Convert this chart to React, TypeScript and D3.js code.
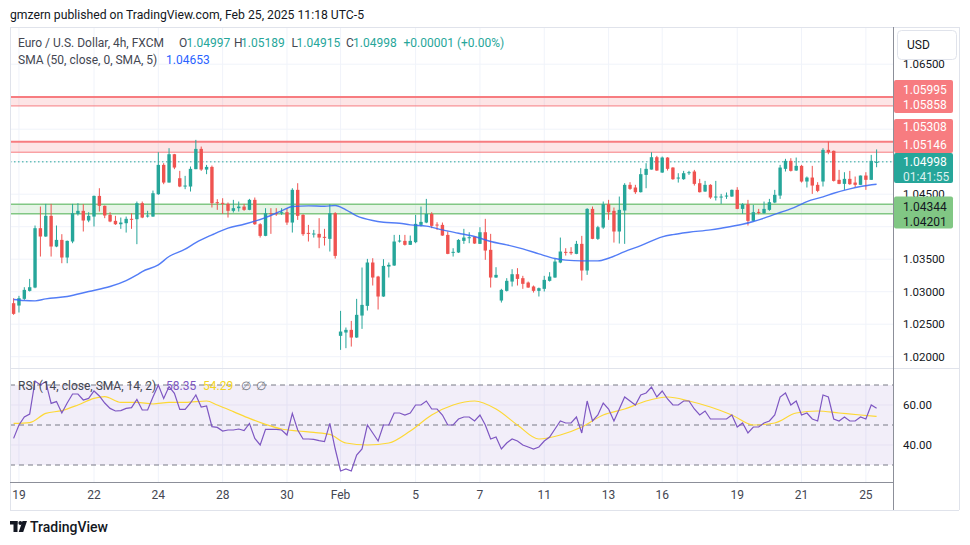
import * as d3 from 'd3';

// EUR/USD 4h candles, Jan 17 13:00 .. Feb 25 09:00 (UTC-5)
const opens = [
  1.02823, 1.02787, 1.0289, 1.03013, 1.03064, 1.03977, 1.03849, 1.04167, 1.03695, 1.03797,
  1.03526, 1.03772, 1.04197, 1.04244, 1.04095, 1.04156, 1.04474, 1.04321, 1.04182, 1.0409,
  1.04038, 1.04054, 1.04121, 1.04115, 1.04362, 1.04162, 1.04156, 1.045, 1.04951, 1.04679,
  1.05115, 1.04746, 1.04618, 1.04618, 1.04885, 1.05197, 1.04879, 1.0492, 1.04377, 1.04367,
  1.04351, 1.04244, 1.04285, 1.0431, 1.04259, 1.04413, 1.04038, 1.03859, 1.04208, 1.04208,
  1.04208, 1.04223, 1.04064, 1.04567, 1.04182, 1.03905, 1.03885, 1.0389, 1.03844, 1.03813,
  1.04208, 1.02321, 1.02372, 1.02413, 1.02295, 1.02633, 1.02782, 1.03449, 1.03233, 1.02926,
  1.03387, 1.03403, 1.03772, 1.03782, 1.03721, 1.03762, 1.04028, 1.04064, 1.04197, 1.04033,
  1.04028, 1.03874, 1.03603, 1.03603, 1.03782, 1.03828, 1.03844, 1.03736, 1.03915, 1.03644,
  1.03218, 1.02864, 1.03013, 1.03156, 1.03269, 1.03208, 1.03141, 1.0308, 1.03013, 1.03044,
  1.03167, 1.03218, 1.03449, 1.03613, 1.03613, 1.03582, 1.03736, 1.03326, 1.04274, 1.03813,
  1.03987, 1.04346, 1.04244, 1.03926, 1.04249, 1.04644, 1.04603, 1.04531, 1.04797, 1.04879,
  1.05069, 1.04833, 1.05064, 1.0491, 1.04746, 1.04731, 1.04828, 1.04849, 1.04669, 1.04541,
  1.04644, 1.04454, 1.04454, 1.04464, 1.04464, 1.04567, 1.04274, 1.04346, 1.0409, 1.04228,
  1.04208, 1.04259, 1.04372, 1.04479, 1.0489, 1.05013, 1.04864, 1.04936, 1.04695, 1.04756,
  1.04644, 1.04695, 1.05182, 1.05167, 1.04721, 1.04659, 1.04736, 1.04679, 1.04644, 1.04787,
  1.04721, 1.04997,
];
const highs = [
  1.029, 1.02936, 1.03069, 1.03197, 1.04018, 1.0431, 1.04351, 1.04351, 1.04018, 1.03885,
  1.03787, 1.04351, 1.04362, 1.04346, 1.04223, 1.04479, 1.04592, 1.04326, 1.04223, 1.04167,
  1.04141, 1.04156, 1.04208, 1.04387, 1.04387, 1.04244, 1.04556, 1.05146, 1.04977, 1.05208,
  1.0512, 1.04859, 1.04782, 1.04926, 1.05336, 1.05233, 1.04951, 1.04941, 1.04423, 1.04438,
  1.04372, 1.04413, 1.04387, 1.04351, 1.04428, 1.04449, 1.04054, 1.04285, 1.04285, 1.04285,
  1.04285, 1.04285, 1.04592, 1.04669, 1.04192, 1.04028, 1.03951, 1.04131, 1.03967, 1.04346,
  1.04223, 1.02705, 1.02449, 1.02551, 1.0289, 1.03372, 1.03505, 1.03515, 1.03244, 1.035,
  1.03449, 1.03874, 1.03874, 1.03874, 1.03864, 1.04182, 1.0431, 1.04428, 1.04223, 1.04069,
  1.04064, 1.03926, 1.03669, 1.03808, 1.03967, 1.03915, 1.03849, 1.03992, 1.04121, 1.0389,
  1.03377, 1.03044, 1.03208, 1.03346, 1.03362, 1.03244, 1.03156, 1.03095, 1.03064, 1.03244,
  1.033, 1.03505, 1.03833, 1.03669, 1.03685, 1.03782, 1.03859, 1.04285, 1.0431, 1.04013,
  1.04387, 1.04413, 1.04295, 1.04464, 1.04669, 1.04685, 1.04644, 1.049, 1.04977, 1.05146,
  1.0509, 1.05079, 1.05069, 1.04915, 1.04823, 1.04859, 1.04859, 1.04874, 1.04736, 1.04705,
  1.04654, 1.04705, 1.04505, 1.04526, 1.04572, 1.04608, 1.04362, 1.04413, 1.04336, 1.04274,
  1.04387, 1.04428, 1.04567, 1.04951, 1.05044, 1.05054, 1.05064, 1.04951, 1.04772, 1.04936,
  1.04685, 1.05208, 1.0531, 1.05172, 1.04874, 1.04838, 1.04859, 1.04772, 1.04787, 1.04838,
  1.05105, 1.05189,
];
const lows = [
  1.02644, 1.0268, 1.02874, 1.03003, 1.03054, 1.03541, 1.03844, 1.03541, 1.03685, 1.03438,
  1.03438, 1.03746, 1.04172, 1.03926, 1.04069, 1.04003, 1.04233, 1.04131, 1.04069, 1.04028,
  1.03967, 1.0391, 1.03967, 1.03731, 1.04131, 1.04141, 1.04151, 1.0449, 1.04654, 1.04679,
  1.04885, 1.04608, 1.04577, 1.04541, 1.04885, 1.04859, 1.04808, 1.04295, 1.04259, 1.04197,
  1.04141, 1.04218, 1.04233, 1.04244, 1.04254, 1.04028, 1.03833, 1.03854, 1.0389, 1.04167,
  1.04182, 1.04028, 1.0391, 1.04105, 1.03859, 1.03772, 1.03833, 1.03669, 1.0371, 1.03618,
  1.0351, 1.02105, 1.02131, 1.02156, 1.0229, 1.02428, 1.0271, 1.03095, 1.02726, 1.02921,
  1.03218, 1.03397, 1.03756, 1.0371, 1.03721, 1.03746, 1.04003, 1.04054, 1.03977, 1.03951,
  1.03859, 1.03577, 1.03541, 1.03597, 1.03736, 1.03746, 1.03736, 1.03736, 1.0349, 1.03064,
  1.03213, 1.02833, 1.03003, 1.0308, 1.03095, 1.03044, 1.03059, 1.02987, 1.02926, 1.03003,
  1.03156, 1.03213, 1.03438, 1.03556, 1.03567, 1.03577, 1.03172, 1.03259, 1.03808, 1.03797,
  1.03967, 1.04105, 1.03756, 1.03741, 1.03736, 1.04567, 1.04505, 1.04526, 1.04592, 1.04879,
  1.04859, 1.04828, 1.04864, 1.04721, 1.04679, 1.04721, 1.04797, 1.04633, 1.04526, 1.04536,
  1.04428, 1.04403, 1.04351, 1.04428, 1.04459, 1.04269, 1.04197, 1.04018, 1.0408, 1.04192,
  1.04197, 1.04244, 1.04362, 1.04428, 1.04849, 1.04849, 1.04859, 1.04679, 1.04603, 1.04505,
  1.04531, 1.04618, 1.05115, 1.04695, 1.04654, 1.04567, 1.04644, 1.04608, 1.04644, 1.04567,
  1.04721, 1.04915,
];
const closes = [
  1.02659, 1.029, 1.03028, 1.03069, 1.03977, 1.03849, 1.04167, 1.03695, 1.03797, 1.03526,
  1.03782, 1.04208, 1.04244, 1.04095, 1.04167, 1.04474, 1.04321, 1.04172, 1.0408, 1.04038,
  1.04064, 1.04121, 1.0411, 1.04362, 1.04141, 1.04172, 1.04515, 1.04951, 1.04679, 1.05115,
  1.0491, 1.04618, 1.04633, 1.0489, 1.05197, 1.04879, 1.0492, 1.04362, 1.04367, 1.04362,
  1.04244, 1.04285, 1.0431, 1.04259, 1.04413, 1.04038, 1.03859, 1.04208, 1.04197, 1.04197,
  1.04223, 1.04064, 1.04567, 1.04167, 1.03885, 1.03895, 1.03895, 1.03833, 1.03833, 1.04208,
  1.03551, 1.02387, 1.02413, 1.02295, 1.02644, 1.02797, 1.03449, 1.03218, 1.02926, 1.03397,
  1.03413, 1.03772, 1.03787, 1.03721, 1.03782, 1.04044, 1.04074, 1.04197, 1.04013, 1.04023,
  1.03864, 1.03582, 1.03613, 1.03797, 1.03833, 1.03838, 1.03741, 1.03915, 1.03633, 1.03218,
  1.03259, 1.03028, 1.03167, 1.03269, 1.03197, 1.03121, 1.03064, 1.03013, 1.03054, 1.03182,
  1.03233, 1.03464, 1.03618, 1.03603, 1.03592, 1.03736, 1.03326, 1.04274, 1.03813, 1.03992,
  1.04346, 1.04223, 1.03926, 1.04259, 1.04644, 1.04582, 1.04531, 1.04808, 1.0489, 1.05069,
  1.04864, 1.05064, 1.0489, 1.04731, 1.04756, 1.04823, 1.04838, 1.04659, 1.04531, 1.04644,
  1.04449, 1.04464, 1.04464, 1.04479, 1.04567, 1.04274, 1.04346, 1.0409, 1.04223, 1.04218,
  1.04274, 1.04377, 1.0449, 1.0491, 1.05013, 1.04859, 1.04936, 1.04695, 1.04756, 1.04633,
  1.04551, 1.05182, 1.05146, 1.04705, 1.04659, 1.04736, 1.04654, 1.04644, 1.04787, 1.04721,
  1.05013, 1.04998,
];

// SMA(50) read at selected candle indices
const smaIdx = [0, 2, 4, 6, 10, 14, 18, 21, 23, 24, 27, 29, 32, 34, 37, 40, 43, 47, 50, 52, 55, 58, 60, 62, 64, 67, 69, 72, 74, 77, 80, 83, 86, 89, 92, 95, 98, 101, 103, 106, 109, 111, 114, 117, 121, 123, 126, 130, 132, 136, 138, 140, 143, 146, 148, 151, 153, 156, 158, 161];
const smaVal = [1.0288, 1.02864, 1.02859, 1.0289, 1.02926, 1.03003, 1.0308, 1.03172, 1.03259, 1.0331, 1.03413, 1.03541, 1.03654, 1.03756, 1.03874, 1.03977, 1.04038, 1.04141, 1.04244, 1.0431, 1.04321, 1.04315, 1.04326, 1.04259, 1.04167, 1.04095, 1.04069, 1.04054, 1.04028, 1.04008, 1.03951, 1.039, 1.03849, 1.03772, 1.03721, 1.03659, 1.03582, 1.0351, 1.03485, 1.03474, 1.03474, 1.03515, 1.03618, 1.0371, 1.03844, 1.03879, 1.03915, 1.03951, 1.03977, 1.04038, 1.0408, 1.04131, 1.04218, 1.0431, 1.04387, 1.04459, 1.04515, 1.04582, 1.04618, 1.04653];

// RSI(14), one value per candle
const rsi = [
  43.3, 50, 54, 55.5, 72, 70, 71.7, 60.8, 61.7, 56,
  61, 65.5, 65.5, 62.5, 63.3, 67, 64.5, 61, 58.3, 57,
  57.2, 58.3, 58.7, 62.8, 57.5, 57.5, 64, 70, 63.3, 69.2,
  65.8, 57.8, 57.8, 61, 65, 59, 59.5, 49.2, 48.8, 47,
  47.5, 47.5, 48, 47.2, 50.8, 43.3, 40, 47.8, 47.8, 47.8,
  47.5, 45, 55.8, 47.5, 43, 43, 42.8, 42.2, 41.7, 50.8,
  38, 27, 28, 27, 35, 38, 50, 46, 42, 50,
  50, 56, 56, 55, 56, 60, 60, 62, 58, 58,
  55, 50, 50, 53, 54, 54, 52, 55, 50, 43,
  44, 38, 41, 43, 42, 40, 39, 38, 39, 42,
  44, 48, 52, 51, 51, 54, 46, 62, 52, 55,
  61, 58, 52, 58, 64, 62, 60, 65, 66, 69,
  64, 67, 63, 60, 60, 62, 62, 58, 55, 57,
  53, 53, 53, 53, 55, 49, 51, 46, 49, 49,
  51, 52, 55, 64, 66, 60, 62, 55, 56, 53,
  52, 65, 64, 53, 52, 54, 52, 52, 54, 53,
  60, 58.35,
];
// RSI-based SMA(14) read at selected indices
const rsiMaIdx = [0, 3, 6, 9, 12, 15, 17, 20, 23, 26, 29, 32, 36, 38, 41, 44, 47, 50, 53, 56, 59, 62, 66, 70, 74, 78, 82, 86, 90, 94, 98, 102, 106, 110, 114, 118, 122, 126, 130, 134, 138, 142, 146, 150, 154, 158, 161];
const rsiMaVal = [50.8, 51.2, 55.8, 57.2, 60, 63.3, 64.2, 61.3, 61.3, 60.5, 61.3, 61.3, 62, 60, 56.7, 53.3, 50.3, 48, 47, 46.3, 45.3, 41, 40, 41, 47, 55, 60, 62, 58, 50, 43, 45, 49, 55, 58, 62, 64, 62, 59, 55, 50, 51, 56, 57, 56, 55, 54.29];

const priceTicks = [1.02, 1.025, 1.03, 1.035, 1.04, 1.045, 1.05, 1.055, 1.06, 1.065];
// the other ticks sit fully behind the price tags on the scale
const priceTickLabels = [1.02, 1.025, 1.03, 1.035, 1.045, 1.065];
const rsiTicks = [40, 60];
const dayLabels = ['19', '22', '24', '28', '30', 'Feb', '5', '7', '11', '13', '16', '19', '21', '25'];
const dayIdx = [1, 15, 27, 39, 51, 61, 75, 87, 99, 111, 121, 135, 147, 159];

const resistZones = [[1.05858, 1.05995], [1.05146, 1.05308]];
const supportZone = [1.04201, 1.04344];
const lastClose = 1.04998;

const UP = '#26a69a';
const DOWN = '#ef5350';
const FONT = 'Roboto, "Liberation Sans", Arial, sans-serif';

export default function App() {
  const left = 10, right = 893, frameRight = 959;
  const priceTop = 27, priceBottom = 368, rsiBottom = 482, axisBottom = 510;

  const x = d3.scaleLinear().domain([0, 161]).range([13.6, 876.6]);
  const y = d3.scaleLinear().domain([1.02, 1.065]).range([356.7, 64.2]);
  const ry = d3.scaleLinear().domain([30, 70]).range([465, 385]);
  const bodyW = 3.4;

  const smaLine = d3.line<number>()
    .x((_, i) => x(smaIdx[i]))
    .y(d => y(d))
    .curve(d3.curveMonotoneX);
  const rsiLine = d3.line<number>()
    .x((_, i) => x(i))
    .y(d => ry(d));
  const rsiMaLine = d3.line<number>()
    .x((_, i) => x(rsiMaIdx[i]))
    .y(d => ry(d))
    .curve(d3.curveMonotoneX);

  const fmt = (v: number) => v.toFixed(5);

  return (
    <svg width={970} height={545} style={{ position: 'absolute', left: 0, top: 0, background: '#fff' }} fontFamily={FONT}>
      <defs>
        <clipPath id="pricePane"><rect x={left} y={priceTop} width={right - left} height={priceBottom - priceTop} /></clipPath>
        <clipPath id="rsiPane"><rect x={left} y={priceBottom} width={right - left} height={rsiBottom - priceBottom} /></clipPath>
      </defs>
      <rect width={970} height={545} fill="#fff" />

      <text x={10} y={19} fontSize={12.2} fill="#131722">gmzern published on TradingView.com, Feb 25, 2025 11:18 UTC-5</text>

      {/* grid */}
      {dayIdx.map((d, i) => (
        <line key={'vg' + i} x1={x(d)} x2={x(d)} y1={priceTop} y2={rsiBottom} stroke="#f0f3fa" />
      ))}
      {priceTicks.map(t => (
        <line key={'hg' + t} x1={left} x2={right} y1={y(t)} y2={y(t)} stroke="#f0f3fa" />
      ))}

      {/* zones */}
      <g clipPath="url(#pricePane)">
        {resistZones.map(([lo, hi], i) => (
          <g key={'rz' + i}>
            <rect x={left} y={y(hi)} width={right - left} height={y(lo) - y(hi)} fill="#f77c80" fillOpacity={0.2} />
            <line x1={left} x2={right} y1={y(hi)} y2={y(hi)} stroke="#f77c80" strokeWidth={2} />
            <line x1={left} x2={right} y1={y(lo)} y2={y(lo)} stroke="#f77c80" strokeWidth={1} />
          </g>
        ))}
        <rect x={left} y={y(supportZone[1])} width={right - left} height={y(supportZone[0]) - y(supportZone[1])} fill="#81c784" fillOpacity={0.2} />
        <line x1={left} x2={right} y1={y(supportZone[1])} y2={y(supportZone[1])} stroke="#81c784" strokeWidth={1.5} />
        <line x1={left} x2={right} y1={y(supportZone[0])} y2={y(supportZone[0])} stroke="#81c784" strokeWidth={1.5} />

        <line x1={left} x2={right} y1={y(lastClose)} y2={y(lastClose)} stroke={UP} strokeDasharray="1.5,2.5" />

        {/* candles */}
        {opens.map((o, i) => {
          const c = closes[i];
          const col = c >= o ? UP : DOWN;
          const top = y(Math.max(o, c));
          const h = Math.max(1, y(Math.min(o, c)) - top);
          return (
            <g key={'c' + i}>
              <line x1={x(i)} x2={x(i)} y1={y(highs[i])} y2={y(lows[i])} stroke={col} strokeWidth={1} />
              <rect x={x(i) - bodyW / 2} y={top} width={bodyW} height={h} fill={col} />
            </g>
          );
        })}

        <path d={smaLine(smaVal) || ''} fill="none" stroke="#3566f5" strokeWidth={1.4} strokeOpacity={0.85} />
      </g>

      {/* legend */}
      <g fontSize={12}>
        <text x={18} y={46.5} fill="#434651">Euro / U.S. Dollar, 4h, FXCM</text>
        <text x={179} y={46.5} fill="#434651">O</text>
        <text x={186.5} y={46.5} fill={UP}>{fmt(opens[161])}</text>
        <text x={234} y={46.5} fill="#434651">H</text>
        <text x={241} y={46.5} fill={UP}>{fmt(highs[161])}</text>
        <text x={291.5} y={46.5} fill="#434651">L</text>
        <text x={296.5} y={46.5} fill={UP}>{fmt(lows[161])}</text>
        <text x={346} y={46.5} fill="#434651">C</text>
        <text x={353} y={46.5} fill={UP}>{fmt(closes[161])}</text>
        <text x={403.5} y={46.5} fill={UP}>+0.00001 (+0.00%)</text>
        <text x={18} y={63.5} fill="#434651">SMA (50, close, 0, SMA, 5)</text>
        <text x={166} y={63.5} fill="#2962ff">{fmt(smaVal[smaVal.length - 1])}</text>
      </g>

      {/* RSI pane */}
      <g clipPath="url(#rsiPane)">
        <rect x={left} y={ry(70)} width={right - left} height={ry(30) - ry(70)} fill="#7e57c2" fillOpacity={0.1} />
        {rsiTicks.map(t => (
          <line key={'rg' + t} x1={left} x2={right} y1={ry(t)} y2={ry(t)} stroke="#e6e1f3" />
        ))}
        {[70, 50, 30].map(t => (
          <line key={'rb' + t} x1={left} x2={right} y1={ry(t)} y2={ry(t)} stroke="#787b86" strokeDasharray="5,4" />
        ))}
        <path d={rsiMaLine(rsiMaVal) || ''} fill="none" stroke="#fdd835" strokeWidth={1.2} />
        <path d={rsiLine(rsi) || ''} fill="none" stroke="#7e57c2" strokeWidth={1.2} />
      </g>
      <g fontSize={12}>
        <text x={18} y={389.5} fill="#434651">RSI (14, close, SMA, 14, 2)</text>
        <text x={166} y={389.5} fill="#7e57c2">{rsi[161].toFixed(2)}</text>
        <text x={203} y={389.5} fill="#f2d422">{rsiMaVal[rsiMaVal.length - 1].toFixed(2)}</text>
        <text x={241} y={389.5} fill="#787b86">∅</text>
        <text x={256} y={389.5} fill="#787b86">∅</text>
      </g>

      {/* frame */}
      <line x1={left} x2={frameRight} y1={priceTop + 0.5} y2={priceTop + 0.5} stroke="#e0e3eb" />
      <line x1={left} x2={frameRight} y1={priceBottom + 0.5} y2={priceBottom + 0.5} stroke="#e0e3eb" />
      <line x1={left} x2={frameRight} y1={axisBottom + 0.5} y2={axisBottom + 0.5} stroke="#e0e3eb" />
      <line x1={left + 0.5} x2={left + 0.5} y1={priceTop} y2={axisBottom} stroke="#e0e3eb" />
      <line x1={frameRight + 0.5} x2={frameRight + 0.5} y1={priceTop} y2={axisBottom} stroke="#e0e3eb" />
      <line x1={left} x2={right} y1={rsiBottom + 0.5} y2={rsiBottom + 0.5} stroke="#8c8f99" />
      <line x1={right + 0.5} x2={right + 0.5} y1={priceTop} y2={axisBottom} stroke="#8c8f99" />

      {/* price axis */}
      <g fontSize={11.5} fill="#131722">
        {priceTickLabels.map(t => (
          <text key={'pt' + t} x={903} y={y(t) + 4}>{fmt(t)}</text>
        ))}
        {rsiTicks.map(t => (
          <text key={'rt' + t} x={903} y={ry(t) + 4}>{t.toFixed(2)}</text>
        ))}
      </g>
      <rect x={897.5} y={30.5} width={59} height={29} rx={4} fill="#fff" stroke="#e0e3eb" />
      <text x={907} y={48.5} fontSize={12} fill="#131722">USD</text>

      <g fontSize={12}>
        <rect x={894} y={80} width={59} height={33} rx={2} fill="#f77c80" />
        <text x={903} y={93.5} fill="#fff">{fmt(resistZones[0][1])}</text>
        <text x={903} y={109} fill="#fff">{fmt(resistZones[0][0])}</text>
        <rect x={894} y={119} width={59} height={34} rx={2} fill="#f77c80" />
        <text x={903} y={131} fill="#fff">{fmt(resistZones[1][1])}</text>
        <text x={903} y={148.5} fill="#fff">{fmt(resistZones[1][0])}</text>
        <rect x={894} y={153} width={59} height={30} rx={2} fill={UP} />
        <text x={903} y={166} fill="#fff">{fmt(lastClose)}</text>
        <text x={903} y={181} fill="#fff" fillOpacity={0.85}>01:41:55</text>
        <rect x={894} y={196.5} width={59} height={32} rx={2} fill="#81c784" />
        <text x={903} y={210.5} fill="#131722">{fmt(supportZone[1])}</text>
        <text x={903} y={226} fill="#131722">{fmt(supportZone[0])}</text>
      </g>

      {/* time axis */}
      <g fontSize={12} fill="#434651" textAnchor="middle">
        {dayLabels.map((l, i) => (
          <text key={'tl' + i} x={x(dayIdx[i])} y={499}>{l}</text>
        ))}
      </g>

      {/* logo */}
      <g fill="#131722">
        <rect x={10} y={521} width={7.5} height={3.5} />
        <rect x={13.5} y={521} width={4} height={11} />
        <circle cx={20.3} cy={523} r={1.9} />
        <path d="M22.5,521 L27,521 L23.2,532 L18.7,532 Z" />
        <text x={30} y={532} fontSize={14} fontWeight={500}>TradingView</text>
      </g>
    </svg>
  );
}
